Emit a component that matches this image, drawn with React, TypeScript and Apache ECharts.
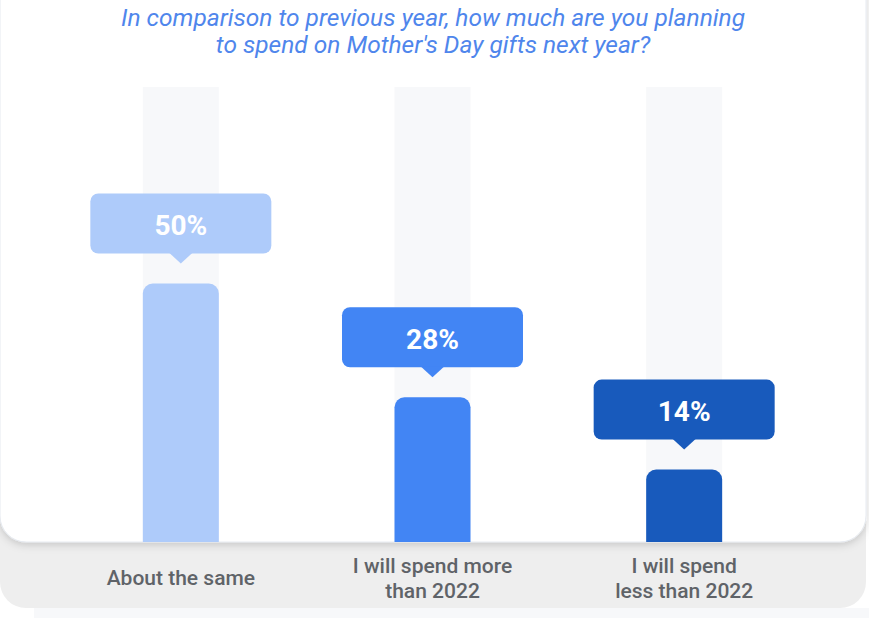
import React, { useEffect, useRef } from "react";
import * as echarts from "echarts";

const categories = ["About the same", "I will spend more\nthan 2022", "I will spend\nless than 2022"];
const values = [50, 28, 14];
const barColors = ["#aecbfa", "#4285f4", "#185abc"];
const titleText = "In comparison to previous year, how much are you planning\nto spend on Mother's Day gifts next year?";

export default function App() {
  const ref = useRef<HTMLDivElement>(null);
  useEffect(() => {
    document.body.style.margin = "0";
    const chart = echarts.init(ref.current!, null, { renderer: "svg" });
    const option: any = {
      animation: false,
      backgroundColor: "#ffffff",
      title: {
        text: titleText,
        left: 428,
        textAlign: "center",
        top: -1,
        textStyle: {
          fontFamily: "Roboto",
          fontStyle: "italic",
          fontWeight: "normal",
          fontSize: 24.5,
          lineHeight: 27,
          color: "#4f86ec",
        },
      },
      graphic: [
        {
          type: "rect",
          z: -5,
          shape: { x: 0, y: 470, width: 866, height: 138, r: [0, 0, 26, 26] },
          style: { fill: "#eeeeee" },
        },
        {
          type: "rect",
          z: -6,
          shape: { x: 34, y: 608, width: 835, height: 10 },
          style: { fill: "#f7f8fa" },
        },
        {
          type: "rect",
          z: -4,
          shape: { x: 0, y: -40, width: 866, height: 582, r: 26 },
          style: {
            fill: "#ffffff",
            stroke: "#e6eaf0",
            lineWidth: 1,
            shadowBlur: 8,
            shadowOffsetY: 2,
            shadowColor: "rgba(0,0,0,0.18)",
          },
        },
      ],
      grid: { left: 55, right: 59, top: 87, bottom: 76 },
      xAxis: {
        type: "category",
        data: categories,
        axisLine: { show: false },
        axisTick: { show: false },
        axisLabel: {
          margin: 36,
          verticalAlign: "middle",
          fontFamily: "Roboto",
          fontWeight: 500,
          fontSize: 21,
          lineHeight: 25,
          color: "#5f6368",
          interval: 0,
        },
      },
      yAxis: {
        type: "value",
        min: 0,
        max: 88,
        show: false,
        splitLine: { show: false },
      },
      series: [
        {
          type: "bar",
          data: values.map((v, i) => ({ value: v, itemStyle: { color: barColors[i] } })),
          barWidth: 76,
          showBackground: true,
          backgroundStyle: { color: "#f7f8fa" },
          itemStyle: { borderRadius: [10, 10, 0, 0] },
          z: 2,
        },
        {
          type: "custom",
          clip: false,
          z: 5,
          data: values.map((v, i) => [i, v]),
          encode: { x: 0, y: 1 },
          renderItem: (params: any, api: any) => {
            const idx = api.value(0);
            const pt = api.coord([idx, api.value(1)]);
            const cx = pt[0];
            const boxW = 181;
            const boxH = 60;
            const bottom = pt[1] - 30;
            const top = bottom - boxH;
            const color = barColors[params.dataIndex];
            return {
              type: "group",
              children: [
                {
                  type: "rect",
                  shape: { x: cx - boxW / 2, y: top, width: boxW, height: boxH, r: 8 },
                  style: { fill: color },
                },
                {
                  type: "polygon",
                  shape: { points: [[cx - 12, bottom - 1], [cx + 12, bottom - 1], [cx, bottom + 10]] },
                  style: { fill: color },
                },
                {
                  type: "text",
                  x: cx,
                  y: top + boxH / 2 + 2,
                  style: {
                    text: values[params.dataIndex] + "%",
                    fill: "#ffffff",
                    fontFamily: "Roboto",
                    fontWeight: "bold",
                    fontSize: 28,
                    align: "center",
                    verticalAlign: "middle",
                  },
                },
              ],
            };
          },
        },
      ],
    };
    chart.setOption(option);
    return () => chart.dispose();
  }, []);
  return <div ref={ref} style={{ width: 869, height: 618 }} />;
}
